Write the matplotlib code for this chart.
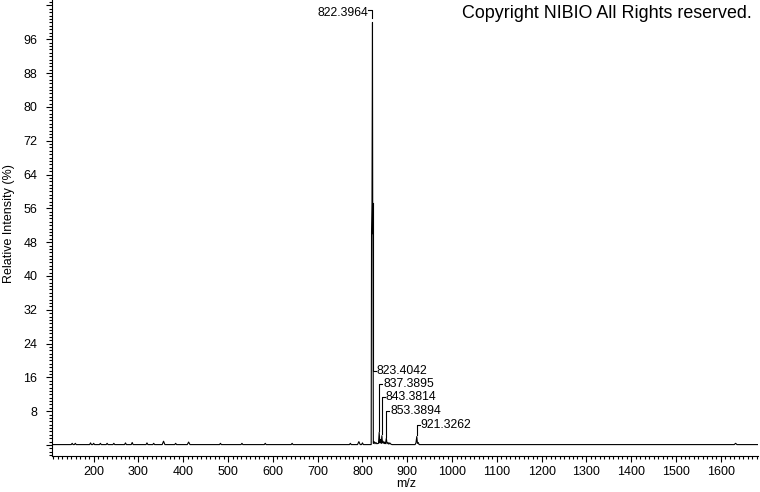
import matplotlib
matplotlib.use("Agg")
import matplotlib.pyplot as plt
from matplotlib.ticker import FixedLocator, MultipleLocator, NullFormatter

plt.rcParams['font.family'] = ['Liberation Sans', 'DejaVu Sans']

# profile of the spectrum (m/z, relative intensity %)
profile_mz = [107, 150, 152, 154, 157, 159, 161, 191, 193, 195, 198, 200, 202,
              213, 215, 217, 228, 230, 232, 243, 245, 247, 269, 271, 273,
              284, 286, 288, 317, 319, 321, 332, 334, 336, 353, 356, 359,
              381, 383, 385, 409, 412, 415, 481, 483, 485, 529, 531, 533,
              581, 583, 585, 641, 643, 645, 771, 773, 775, 789, 792, 795,
              798, 800, 802,
              819.5, 820.3, 821.3, 822.4, 823.0, 823.4, 824.3,
              826, 828, 830, 832, 835.8, 837.4, 838.8, 840.5, 842, 843.4,
              844.6, 846, 847.5, 849, 850.5, 851.8, 853.4, 854.8, 857, 859,
              861, 863.5, 866,
              917.5, 919.5, 921.3, 922.8, 924.5, 926.5,
              1630, 1633, 1636, 1683]
profile_int = [0.1, 0.1, 0.4, 0.1, 0.1, 0.4, 0.1, 0.1, 0.5, 0.1, 0.1, 0.4, 0.1,
               0.1, 0.4, 0.1, 0.1, 0.4, 0.1, 0.1, 0.4, 0.1, 0.1, 0.5, 0.1,
               0.1, 0.6, 0.1, 0.1, 0.5, 0.1, 0.1, 0.4, 0.1, 0.1, 0.9, 0.1,
               0.1, 0.4, 0.1, 0.1, 0.7, 0.1, 0.1, 0.4, 0.1, 0.1, 0.4, 0.1,
               0.1, 0.4, 0.1, 0.1, 0.4, 0.1, 0.1, 0.4, 0.1, 0.1, 0.8, 0.1,
               0.1, 0.5, 0.1,
               0.1, 50.5, 57.0, 100.0, 50.0, 57.0, 0.4,
               0.8, 0.3, 0.6, 0.3, 0.4, 3.0, 0.5, 1.3, 0.4, 2.2,
               0.5, 0.9, 0.4, 0.7, 0.3, 0.6, 1.6, 0.3, 0.6, 0.2,
               0.5, 0.2, 0.1,
               0.1, 0.5, 2.0, 0.4, 0.6, 0.1,
               0.1, 0.4, 0.1, 0.1]

# labelled peaks
peak_mz = [822.3964, 823.4042, 837.3895, 843.3814, 853.3894, 921.3262]
peak_int = [100.0, 57.0, 3.0, 2.2, 1.6, 2.0]
peak_text = ["822.3964", "823.4042", "837.3895", "843.3814", "853.3894", "921.3262"]

# label heights (in % units) as placed on the plot
label_y = [102.9, 17.5, 14.5, 11.4, 8.1, 4.8]

y_major = [0, 8, 16, 24, 32, 40, 48, 56, 64, 72, 80, 88, 96, 104]
y_labels = ["", "8", "16", "24", "32", "40", "48", "56", "64", "72", "80", "88", "96", ""]
x_major = [200, 300, 400, 500, 600, 700, 800, 900, 1000, 1100, 1200, 1300, 1400, 1500, 1600]

fig = plt.figure(figsize=(7.6, 4.92), dpi=100)
ax = fig.add_axes([52 / 760, 1 - 456 / 492, 706 / 760, 456 / 492])

ax.plot(profile_mz, profile_int, color="black", lw=0.8)

# peak labels with leader lines
for i in range(len(peak_mz)):
    mz = peak_mz[i]
    if i == 0:
        ax.plot([mz, mz, mz - 9], [peak_int[i] + 1.0, label_y[i], label_y[i]],
                color="black", lw=0.8)
        ax.text(mz - 10, label_y[i] - 0.6, peak_text[i], ha="right", va="center", fontsize=8.8)
    else:
        ax.plot([mz, mz, mz + 7], [peak_int[i] + 0.3, label_y[i], label_y[i]],
                color="black", lw=0.8)
        ax.text(mz + 9, label_y[i], peak_text[i], ha="left", va="center", fontsize=8.8)

ax.set_xlim(107, 1683)
ax.set_ylim(-2.6, 105.3)

ax.spines["top"].set_visible(False)
ax.spines["right"].set_visible(False)
ax.spines["left"].set_linewidth(0.8)
ax.spines["bottom"].set_linewidth(0.8)

ax.yaxis.set_major_locator(FixedLocator(y_major))
ax.set_yticklabels(y_labels)
ax.yaxis.set_minor_locator(MultipleLocator(0.8))
ax.xaxis.set_major_locator(FixedLocator(x_major))
ax.xaxis.set_minor_locator(MultipleLocator(10))
ax.xaxis.set_minor_formatter(NullFormatter())

ax.tick_params(axis="both", which="major", direction="out", length=4.5, width=0.8, labelsize=9)
ax.tick_params(axis="both", which="minor", direction="out", length=2.5, width=0.8)
ax.tick_params(axis="y", which="major", pad=6)
ax.tick_params(axis="x", which="major", pad=3)

fig.text(406 / 760, 1 - 484 / 492, "m/z", ha="center", va="center", fontsize=9)
fig.text(9 / 760, 1 - 224 / 492, "Relative Intensity (%)", rotation=90,
         ha="center", va="center", fontsize=9)
fig.text(752 / 760, 1 - 14 / 492, "Copyright NIBIO All Rights reserved.",
         ha="right", va="center", fontsize=12.9)

fig.savefig("out.png", dpi=100)
